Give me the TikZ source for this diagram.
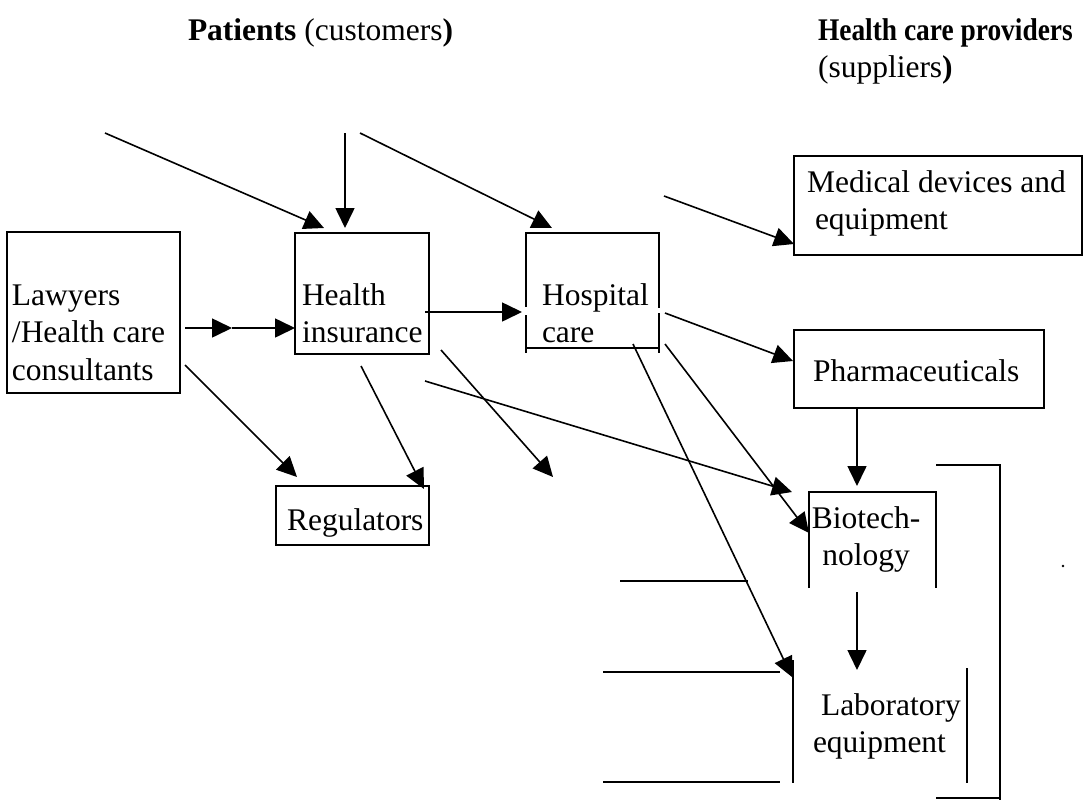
\documentclass[tikz,border=0pt]{standalone}
\usepackage{fontspec}
\setmainfont{Liberation Serif}
\usetikzlibrary{arrows.meta,calc}
\newcommand\mainsz{\fontsize{31.5}{37.6}\selectfont}
\begin{document}
\begin{tikzpicture}[x=1pt,y=-1pt,
  bline/.style={line width=1.8pt},
  boxn/.style={draw, line width=1.8pt, inner sep=0, outer sep=0},
  opn/.style={draw=none, inner sep=0, outer sep=0},
  lbl/.style={anchor=north west, align=left, inner sep=0, outer sep=0, font=\mainsz, yshift=26.32pt},
  lblc/.style={anchor=north, align=center, inner sep=0, outer sep=0, font=\mainsz, yshift=26.32pt},
  arr/.style={line width=1.6pt, -{Triangle[length=20pt,width=19pt]}},
  plain/.style={line width=1.6pt}]
\useasboundingbox (0,0) rectangle (1083,803);

% titles
\node[lbl] (t1) at (188,40) {\strut\textbf{Patients} (customers\textbf{)}};
\node[lbl] (t2) at (818,40) {\strut\scalebox{0.87}[1]{\textbf{Health care providers}}};
\node[lbl] (t3) at (818,77) {\strut(suppliers\textbf{)}};

% boxes
\node[boxn, minimum width=173pt, minimum height=161pt] (law) at (93.5,312.5) {};
\node[boxn, minimum width=134pt, minimum height=121pt] (hi) at (362,293.5) {};
\node[opn, minimum width=133pt, minimum height=115pt] (hosp) at (592.5,290.5) {};
\node[boxn, minimum width=288pt, minimum height=99pt] (med) at (938,205.5) {};
\node[boxn, minimum width=250pt, minimum height=78pt] (pharm) at (919,369) {};
\node[boxn, minimum width=153pt, minimum height=59pt] (reg) at (352.5,515.5) {};
\node[opn, minimum width=127pt, minimum height=96pt] (bio) at (872.5,540) {};
\node[opn, minimum width=174pt, minimum height=123pt] (lab) at (880,721.5) {};
\node[opn, minimum width=64pt, minimum height=333pt] (grp) at (968,631.5) {};

% open outlines
\draw[bline] ($(hosp.west)+(0,16.5)$) -- (hosp.north west) -- (hosp.north east) -- ($(hosp.east)+(0,17.5)$);
\draw[bline] ($(hosp.east)+(0,22.5)$) -- ($(hosp.south east)+(0,5)$);
\draw[bline] ($(hosp.west)+(0,24.5)$) -- ($(hosp.south west)+(0,5)$);
\draw[bline] (hosp.south west) -- (hosp.south east);
\draw[bline] (bio.south west) -- (bio.north west) -- (bio.north east) -- (bio.south east);
\draw[bline] (lab.north west) -- (lab.south west);
\draw[bline] ($(lab.north east)+(0,8)$) -- (lab.south east);
\draw[bline] (grp.north west) -- (grp.north east) -- ($(grp.south east)+(0,2)$);
\draw[bline] (grp.south west) -- (grp.south east);

% labels
\node[lbl] (law-t) at (12,305) {\strut Lawyers\\/Health care\\consultants};
\node[lbl] (hi-t) at (302,305) {\strut Health\\insurance};
\node[lbl] (hosp-t) at (542,305) {\strut Hospital\\care};
\node[lbl] (med-t) at (807,192) {\strut Medical devices and\\\hspace{8pt}equipment};
\node[lbl] (pharm-t) at (813,381) {\strut Pharmaceuticals};
\node[lbl] (reg-t) at (287,530) {\strut Regulators};
\node[lblc] (bio-t) at (866,528) {\strut Biotech-\\nology};
\node[lbl] (lab-t) at (813,715) {\strut\hspace{8pt}Laboratory\\equipment};

% free ends
\coordinate (s1) at (105,133);
\coordinate (s2) at (345,133);
\coordinate (s3) at (360,133);
\coordinate (s4) at (664,196);
\coordinate (e13) at (553,477);
\coordinate (m5) at (232,328);

% connectors
\draw[arr] (s1) -- ($(hi.north west)+(29,-5)$);
\draw[arr] (s2) -- ($(hi.north west)+(50,-5)$);
\draw[arr] (s3) -- ($(hosp.north west)+(26,-5)$);
\draw[arr] (s4) -- ($(med.south west)+(0,-11)$);
\draw[arr] ($(law.east)+(5,15.5)$) -- (m5);
\draw[arr] (m5) -- ($(hi.west)+(0,34.5)$);
\draw[arr] ($(hi.east)+(-4,18.5)$) -- ($(hosp.west)+(-4,21.5)$);
\draw[arr] ($(hosp.east)+(6,22.5)$) -- ($(pharm.west)+(-1,-8)$);
\draw[arr] ($(pharm.south)+(-62,0)$) -- ($(bio.north)+(-15.5,-6)$);
\draw[arr] ($(bio.south)+(-15.5,4)$) -- ($(lab.north)+(-23,10)$);
\draw[arr] ($(hosp.south)+(40.5,-4)$) -- ($(lab.north west)+(-1,17)$);
\draw[arr] ($(hosp.south east)+(6,-4)$) -- ($(bio.west)+(0,-7)$);
\draw[arr] ($(hi.east)+(-4,87.5)$) -- ($(bio.north west)+(-17,0)$);
\draw[arr] ($(hi.south east)+(12,-4)$) -- (e13);
\draw[arr] ($(hi.south)+(-1,12)$) -- ($(reg.north east)+(-5,3)$);
\draw[arr] ($(law.south east)+(5,-28)$) -- ($(reg.north west)+(21,-9)$);

% free horizontal lines
\draw[plain] (620,581) -- (748,581);
\draw[plain] (603,672) -- (780,672);
\draw[plain] (603,782) -- (780,782);
\fill (1063,566) circle (1.4);
\end{tikzpicture}
\end{document}
